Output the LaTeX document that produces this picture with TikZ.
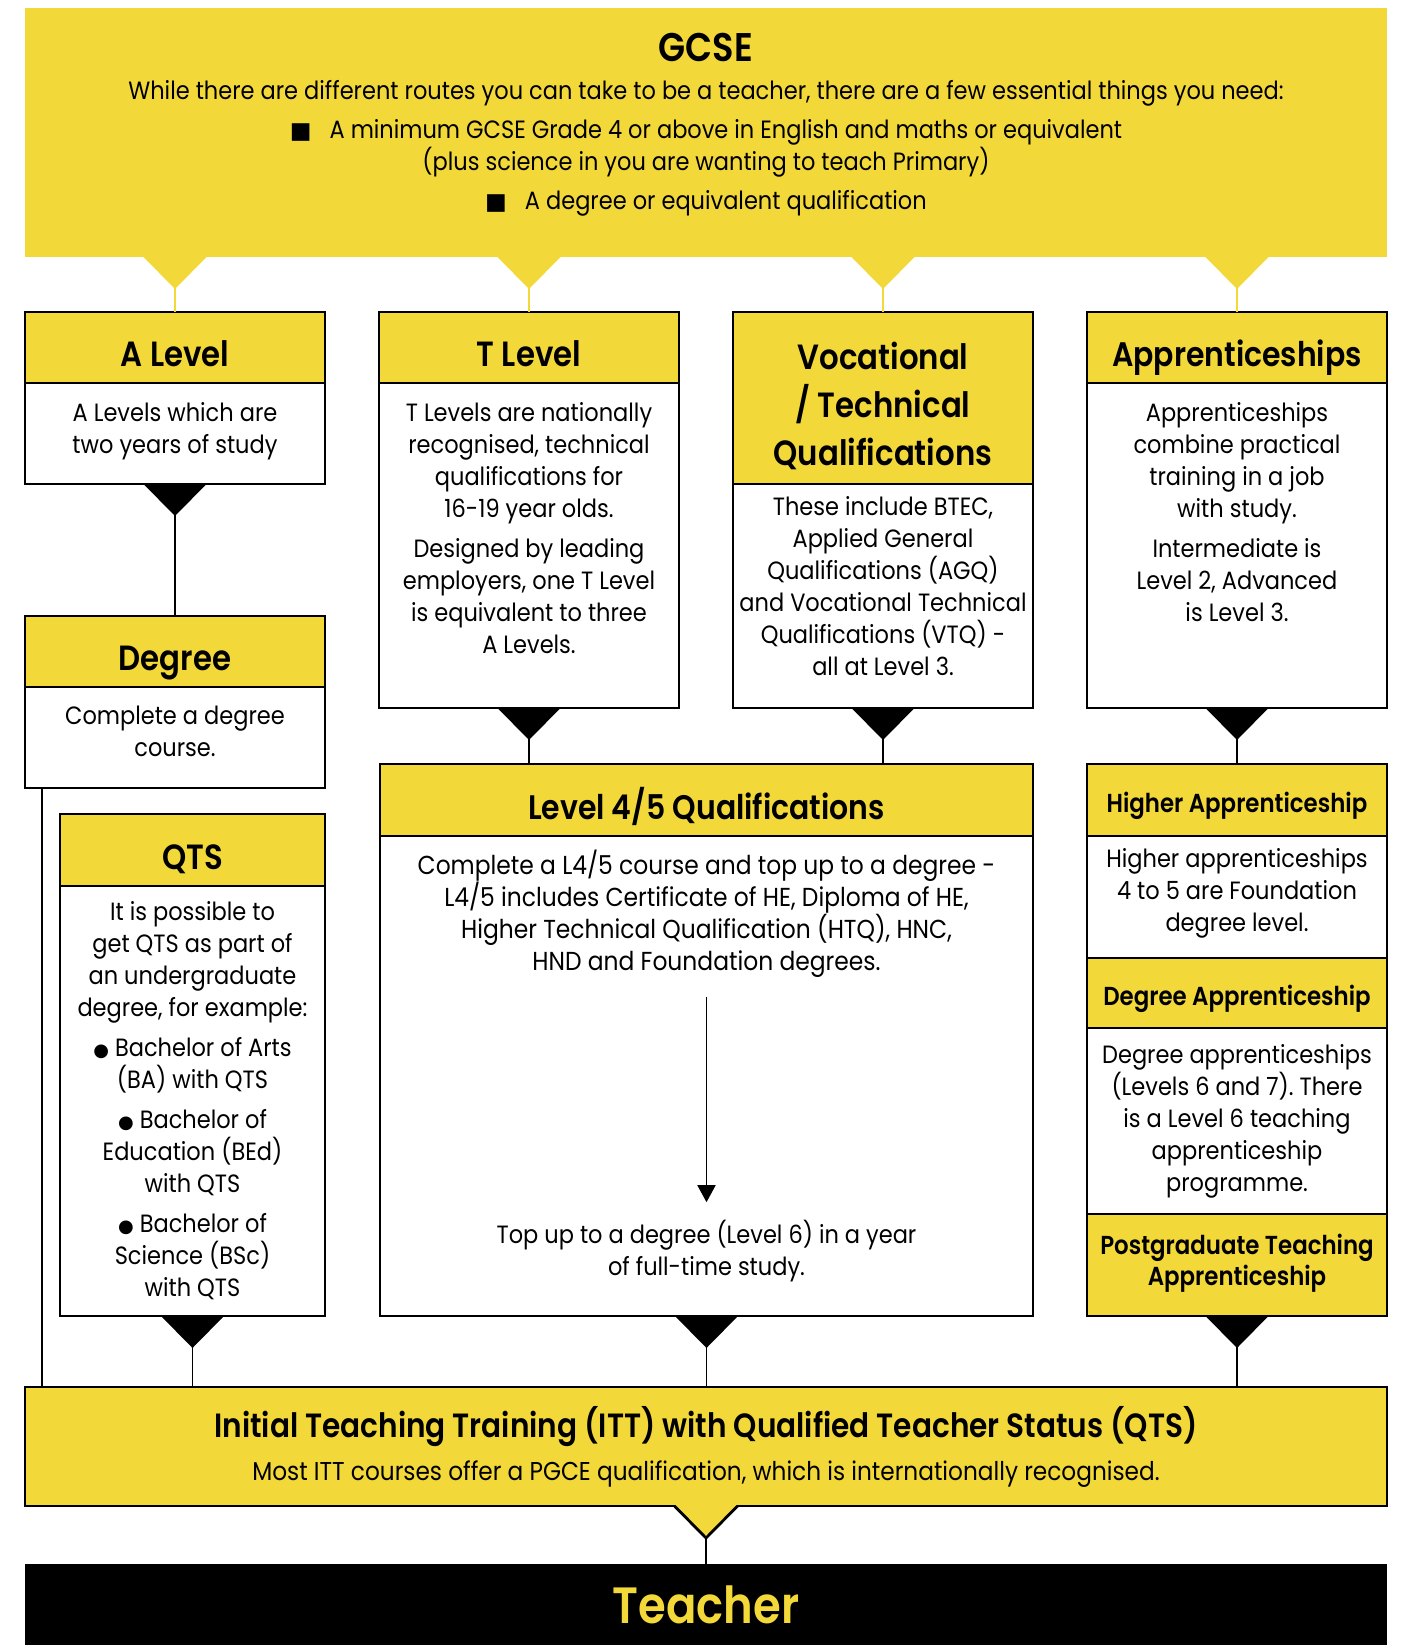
\documentclass[tikz,border=0pt]{standalone}
\usepackage{fontspec}
\setmainfont[FakeStretch=0.90, BoldFont={Poppins SemiBold}, BoldFeatures={FakeStretch=0.88}]{Poppins}
\newfontfamily\symfont{DejaVu Sans}
\usetikzlibrary{arrows.meta, positioning}
\definecolor{gold}{HTML}{F3D83A}
\newcommand*{\sqb}{{\symfont\fontsize{11.5}{11.5}\selectfont■}\hspace{9pt}}
\newcommand*{\dotb}{{\symfont\fontsize{9}{9}\selectfont●}}
\newcommand*{\notch}[2]{\fill[#2] (#1) ++(-31.5,0) -- ++(63,0) -- ++(-31.5,32) -- cycle;}
\frenchspacing

\begin{document}
\begin{tikzpicture}[
        x=0.5pt, y=-0.5pt, node distance=0pt, >={Triangle[width=9pt,length=8.5pt]},
        every node/.style={inner sep=0pt, outer sep=0pt},
        frame/.style={draw, line width=1.4pt},
        head/.style={frame, fill=gold, minimum width=150pt, minimum height=35.5pt, text width=150pt,
          text height=19pt, text depth=0pt, align=flush center, font=\fontsize{17.5}{24}\selectfont\bfseries},
        subhead/.style={head, text height=12pt, font=\fontsize{13}{15.75}\selectfont\bfseries},
        body/.style={frame, fill=white, minimum width=150pt, text width=150pt,
          align=flush center, font=\fontsize{12.5}{16}\selectfont},
        link/.style={line width=0.9pt},
        goldlink/.style={line width=1pt, draw=gold}
        ]
        \useasboundingbox (0,0) rectangle (1401,1645);

        \node[fill=gold, minimum width=681pt, minimum height=124.5pt, anchor=north west] (gcse) at (25,8) {};
        \node[align=center, font=\fontsize{12.5}{16}\selectfont, below=12.8pt of gcse.north] (gcse_txt)
          {{\fontsize{20}{22}\selectfont\bfseries GCSE}\\[3pt]
           While there are different routes you can take to be a teacher, there are a few essential things you need:\\[3.5pt]
           \sqb A minimum GCSE Grade 4 or above in English and maths or equivalent\\
           (plus science in you are wanting to teach Primary)\\[3.5pt]
           \sqb A degree or equivalent qualification};

        \node[head, anchor=north west] (alevel_h) at (25,312) {A Level};
        \node[body, minimum height=50.5pt, text depth=22pt, below=of alevel_h] (alevel_b) {A Levels which are\\two years of study};

        \node[head, anchor=north west] (tlevel_h) at (379,312) {T Level};
        \node[body, minimum height=162.5pt, text depth=134pt, below=of tlevel_h] (tlevel_b)
          {T Levels are nationally\\recognised, technical\\qualifications for\\16-19 year olds.\\[4pt]
           Designed by leading\\employers, one T Level\\is equivalent to three\\A Levels.};

        \node[head, anchor=north west, minimum height=86pt, text depth=48pt] (voc_h) at (733,312) {Vocational\\/ Technical\\Qualifications};
        \node[body, minimum height=112pt, text depth=90pt, below=of voc_h] (voc_b)
          {These include BTEC,\\Applied General\\Qualifications (AGQ)\\and Vocational Technical\\Qualifications (VTQ) -\\all at Level 3.};

        \node[head, anchor=north west, font=\fontsize{17}{24}\selectfont\bfseries] (app_h) at (1087,312) {Apprenticeships};
        \node[body, minimum height=162.5pt, text depth=134pt, below=of app_h] (app_b)
          {Apprenticeships\\combine practical\\training in a job\\with study.\\[4pt]
           Intermediate is\\Level 2, Advanced\\is Level 3.};

        \node[head, anchor=north west] (degree_h) at (25,616) {Degree};
        \node[body, minimum height=50.5pt, text depth=22pt, below=of degree_h] (degree_b) {Complete a degree\\course.};

        \node[head, anchor=north west, minimum width=132.5pt, text width=132.5pt, minimum height=36pt] (qts_h) at (60,814) {QTS};
        \node[body, minimum width=132.5pt, text width=132.5pt, minimum height=215pt, below=of qts_h] (qts_b)
          {It is possible to\\get QTS as part of\\an undergraduate\\degree, for example:\\[4pt]
           \dotb\ Bachelor of Arts\\(BA) with QTS\\[4pt]
           \dotb\ Bachelor of\\Education (BEd)\\with QTS\\[4pt]
           \dotb\ Bachelor of\\Science (BSc)\\with QTS};

        \node[head, anchor=north west, minimum width=326.5pt, text width=326.5pt, minimum height=36pt,
          font=\fontsize{17}{24}\selectfont\bfseries] (l45_h) at (380,764) {Level 4/5 Qualifications};
        \node[frame, fill=white, minimum width=326.5pt, minimum height=240pt, below=of l45_h] (l45_b) {};
        \node[align=center, font=\fontsize{13}{16}\selectfont, below=7pt of l45_b.north] (l45_top)
          {Complete a L4/5 course and top up to a degree -\\L4/5 includes Certificate of HE, Diploma of HE,\\
           Higher Technical Qualification (HTQ), HNC,\\HND and Foundation degrees.};
        \node[align=center, font=\fontsize{12.5}{16}\selectfont, above=17pt of l45_b.south] (l45_bot)
          {Top up to a degree (Level 6) in a year\\of full-time study.};
        \draw[link, ->, shorten <=9.5pt, shorten >=9pt] (l45_top) -- (l45_bot);

        \node[subhead, anchor=north west, minimum height=36pt] (ha_h) at (1087,764) {Higher Apprenticeship};
        \node[body, minimum height=61pt, text depth=39.5pt, below=of ha_h] (ha_b) {Higher apprenticeships\\4 to 5 are Foundation\\degree level.};
        \node[subhead, minimum height=35pt, below=of ha_b] (da_h) {Degree Apprenticeship};
        \node[body, minimum height=93pt, below=of da_h] (da_b)
          {Degree apprenticeships\\(Levels 6 and 7). There\\is a Level 6 teaching\\apprenticeship\\programme.};
        \node[subhead, minimum height=51pt, text depth=23pt, below=of da_b] (pta) {Postgraduate Teaching\\Apprenticeship};

        \node[frame, fill=gold, minimum width=681pt, minimum height=59.5pt, anchor=north west, align=center] (itt) at (25,1387)
          {{\fontsize{16.8}{20}\selectfont\bfseries Initial Teaching Training (ITT) with Qualified Teacher Status (QTS)}\\[6pt]
           {\fontsize{12.9}{16}\selectfont Most ITT courses offer a PGCE qualification, which is internationally recognised.}};
        \node[fill=black, minimum width=681pt, minimum height=40.5pt, anchor=north west, text=gold,
          font=\fontsize{25.5}{25.5}\selectfont\bfseries] (teacher) at (25,1564) {Teacher};

        \foreach \col in {alevel_h, tlevel_h, voc_h, app_h}{
          \draw[goldlink] (\col.north |- gcse.south) -- (\col.north);
          \notch{\col.north |- gcse.south}{gold}
        }

        \draw[link] (alevel_b.south) -- (degree_h.north);
        \notch{alevel_b.south}{black}
        \draw[link] (tlevel_b.south) -- (tlevel_b.south |- l45_h.north);
        \notch{tlevel_b.south}{black}
        \draw[link] (voc_b.south) -- (voc_b.south |- l45_h.north);
        \notch{voc_b.south}{black}
        \draw[link] (app_b.south) -- (ha_h.north);
        \notch{app_b.south}{black}

        \coordinate (deg_drop) at ([xshift=8.5pt]degree_b.south west);
        \draw[link] (deg_drop) -- (deg_drop |- itt.north);
        \foreach \src in {qts_b, l45_b, pta}{
          \draw[link] (\src.south) -- (\src.south |- itt.north);
          \notch{\src.south}{black}
        }

        \draw[link] (itt.south) -- (teacher.north);
        \fill[gold] ([yshift=0.8pt]itt.south) ++(-31.5,0) -- ++(63,0) -- ++(-31.5,33.6) -- cycle;
        \draw[frame, line join=miter] ([xshift=-15.75pt]itt.south) -- ++(31.5,32) -- ++(31.5,-32);
      \end{tikzpicture}
\end{document}
